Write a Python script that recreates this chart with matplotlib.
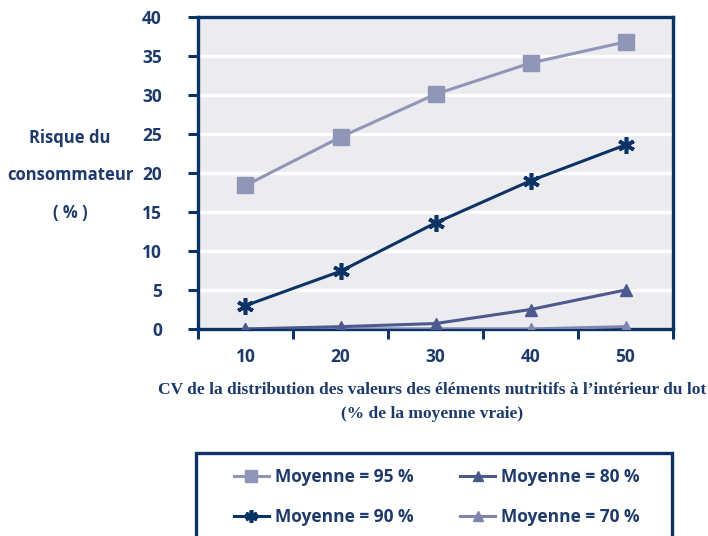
import matplotlib.pyplot as plt
from matplotlib.patches import Rectangle

cv = ["10", "20", "30", "40", "50"]
moy95 = [18.4, 24.6, 30.1, 34.1, 36.8]
moy90 = [3.0, 7.4, 13.6, 19.0, 23.6]
moy80 = [0.0, 0.3, 0.7, 2.5, 5.0]
moy70 = [0.0, 0.0, 0.0, 0.0, 0.3]
y_ticks = [0, 5, 10, 15, 20, 25, 30, 35, 40]

navy = "#0c3366"
text_c = "#1d3a6b"
sans = "Open Sans"
serif = "Liberation Serif"

fig = plt.figure(figsize=(7.08, 5.36), dpi=100)
ax = fig.add_axes([198/708, 1 - 329/536, 475/708, 312/536])
ax.set_facecolor("#ebebf0")

x = list(range(len(cv)))
ax.plot(x, moy95, color="#8f96b8", lw=2.2, marker="s", ms=11, mec="#8f96b8", label="Moyenne = 95 %", zorder=4)
ax.plot(x, moy90, color=navy, lw=2.2, marker=(6, 2, 0), ms=12, mew=2.6, label="Moyenne = 90 %", zorder=5)
ax.plot(x, moy80, color="#4c5a8e", lw=2.2, marker="^", ms=9, label="Moyenne = 80 %", zorder=4)
ax.plot(x, moy70, color="#7e86b0", lw=2.2, marker="^", ms=9, label="Moyenne = 70 %", zorder=3)

ax.set_xlim(-0.5, 4.5)
ax.set_ylim(0, 40)
ax.set_yticks(y_ticks)
ax.set_yticklabels([str(v) for v in y_ticks], fontfamily=sans, fontweight="bold", fontsize=12.5, color=text_c)
ax.yaxis.grid(True, color="white", lw=2.5)
ax.set_axisbelow(True)

# category boundaries carry the tick marks, labels sit in the middle
ax.set_xticks([i - 0.5 for i in range(len(cv) + 1)])
ax.set_xticklabels([])
ax.set_xticks(x, minor=True)
ax.set_xticklabels(cv, minor=True, fontfamily=sans, fontweight="bold", fontsize=12.5, color=text_c)
ax.tick_params(axis="x", which="minor", length=0, pad=14)
ax.tick_params(axis="both", which="major", direction="out", length=7, width=2.2, color=navy)
ax.tick_params(axis="y", pad=19)

for s in ax.spines.values():
    s.set_color(navy)
    s.set_linewidth(2.4)

fig.text(70/708, 1 - 138/536, "Risque du", ha="center", va="center", fontfamily=sans, fontweight="bold", fontsize=12, color=text_c)
fig.text(70/708, 1 - 175/536, "consommateur", ha="center", va="center", fontfamily=sans, fontweight="bold", fontsize=12, color=text_c)
fig.text(70/708, 1 - 213/536, "( % )", ha="center", va="center", fontfamily=sans, fontweight="bold", fontsize=12, color=text_c)

fig.text(432/708, 1 - 390/536, "CV de la distribution des valeurs des éléments nutritifs à l\u2019intérieur du lot",
         ha="center", va="center", fontfamily=serif, fontweight="bold", fontsize=12.5, color=text_c)
fig.text(432/708, 1 - 414/536, "(% de la moyenne vraie)",
         ha="center", va="center", fontfamily=serif, fontweight="bold", fontsize=12.5, color=text_c)

fig.patches.append(Rectangle((196/708, -0.05), 476/708, 0.05 + (536 - 453)/536, transform=fig.transFigure,
                             fill=False, edgecolor=navy, lw=2.4))

leg = fig.legend(loc="center", bbox_to_anchor=(437/708, 1 - 497/536), ncol=2, frameon=False,
                 handlelength=2.0, handletextpad=0.35, columnspacing=2.7, labelspacing=1.25,
                 markerscale=0.75, prop={"family": sans, "weight": "bold", "size": 12.5})
for t in leg.get_texts():
    t.set_color(text_c)

fig.savefig("out.png", dpi=100)
